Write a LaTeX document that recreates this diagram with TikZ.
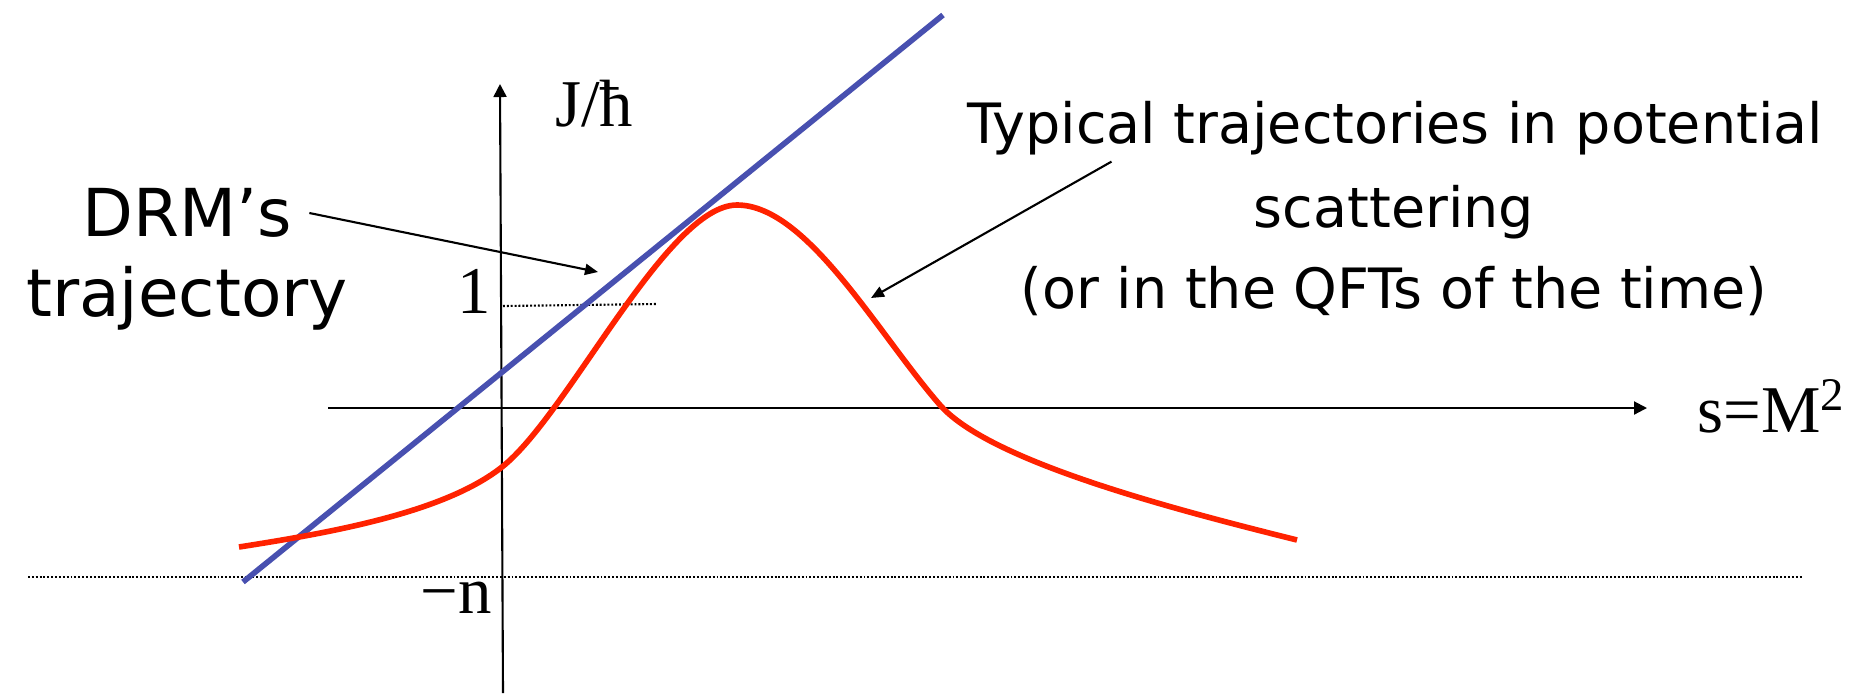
\documentclass[tikz,border=0pt]{standalone}
\usepackage{fontspec}
\setmainfont{Liberation Serif}
\newfontfamily\notefont{DejaVu Sans}
\usetikzlibrary{arrows.meta,positioning}

\definecolor{drmblue}{RGB}{72,80,176}
\definecolor{potred}{RGB}{255,34,0}

\begin{document}
\begin{tikzpicture}[x=0.01cm, y=-0.01cm,
    every node/.style={inner sep=0pt},
    axis/.style={line width=0.6pt, -{Triangle[length=1.3mm, width=1.3mm]}},
    pointer/.style={line width=0.6pt, -{Triangle[length=1.3mm, width=1.1mm]}},
    guide/.style={line width=0.6pt, dash pattern=on 0.55pt off 0.55pt},
    traj/.style={line width=1.6pt},
    lbl/.style={font=\fontsize{19}{22}\selectfont},
    note/.style={font=\notefont\fontsize{15.8}{20}\selectfont},
    bignote/.style={font=\notefont\fontsize{18.8}{22}\selectfont}]
    \useasboundingbox (0,0) rectangle (1869,693);

    % axes
    \coordinate (ybot) at (503,693);
    \coordinate (ytop) at (500,84);
    \coordinate (xleft) at (328,408);
    \coordinate (xright) at (1647,408);
    \draw[axis] (ybot) -- (ytop);
    \draw[axis] (xleft) -- (xright);
    \node[lbl] (jlab) at (594,104) {J/ħ};
    \node[lbl] (slab) at (1772,406) {s=M\textsuperscript{2}};

    % levels 1 and -n
    \node[lbl] (one) at (474,291) {1};
    \node[lbl] (negn) at (456,598) {−n};
    \draw[guide] (503,306) -- (657,304);
    \draw[guide] (28,577) -- (1803,577);

    % trajectories
    \draw[traj, drmblue] (243,582) -- (943,15);
    \draw[traj, potred] (239,547) .. controls (335,532) and (445,512) .. (502,467)
        .. controls (568,415) and (667,205) .. (737,205)
        .. controls (807,205) and (878,334) .. (940,405)
        .. controls (990,462) and (1177,510) .. (1297,540);

    % labels
    \node[bignote] (drm1) at (187,213) {DRM’s};
    \node[bignote] (drm2) at (187,298) {trajectory};
    \node[note] (typ1) at (1395,128) {Typical trajectories in potential};
    \node[note] (typ2) at (1394,212) {scattering};
    \node[note] (typ3) at (1394,291) {(or in the QFTs of the time)};

    \coordinate (drmtip) at (598,272);
    \coordinate (typtip) at (871,298);
    \draw[pointer] ([xshift=0.17cm]drm1.east) -- (drmtip);
    \draw[pointer] ([xshift=1.45cm, yshift=-0.06cm]typ1.south west) -- (typtip);
\end{tikzpicture}
\end{document}
